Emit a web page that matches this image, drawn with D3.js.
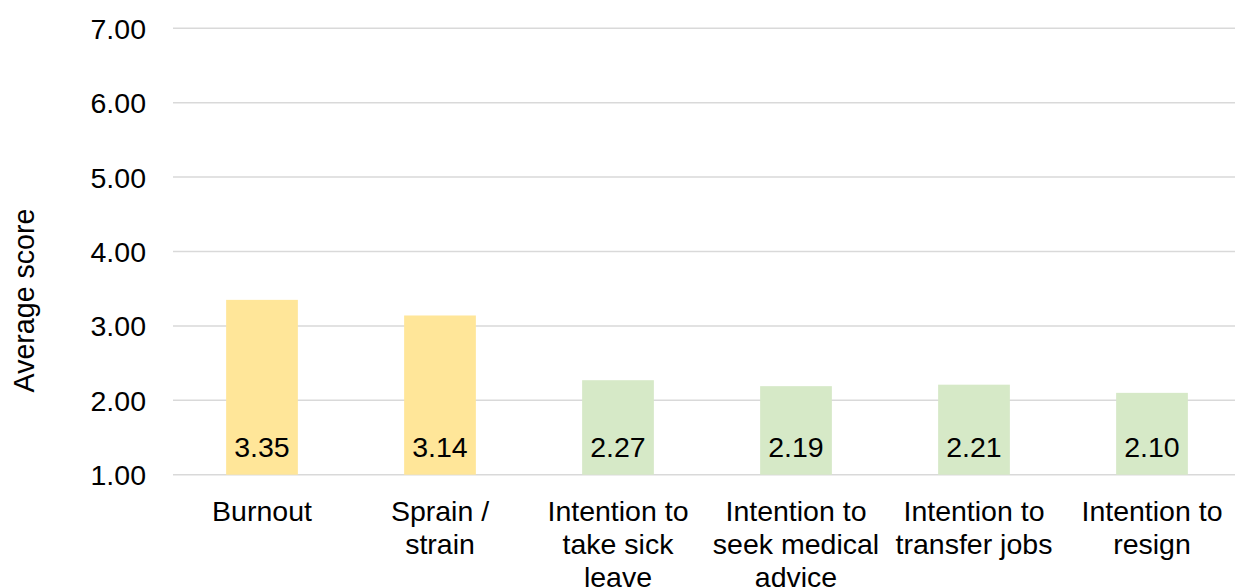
<!DOCTYPE html>
<html>
<head>
<meta charset="utf-8">
<script src="https://cdn.jsdelivr.net/npm/d3@7"></script>
<style>
  html, body { margin: 0; padding: 0; background: #fff; }
  svg { display: block; font-family: "Liberation Sans", Arial, sans-serif; }
</style>
</head>
<body>
<svg id="chart" width="1235" height="588"></svg>
<script>
const categories = ["Burnout", "Sprain / strain", "Intention to take sick leave",
  "Intention to seek medical advice", "Intention to transfer jobs", "Intention to resign"];
const categoryLines = [["Burnout"], ["Sprain /", "strain"], ["Intention to", "take sick", "leave"],
  ["Intention to", "seek medical", "advice"], ["Intention to", "transfer jobs"], ["Intention to", "resign"]];
const values = [3.35, 3.14, 2.27, 2.19, 2.21, 2.10];
const barColors = ["#FFE699", "#FFE699", "#D6E9C7", "#D6E9C7", "#D6E9C7", "#D6E9C7"];
const yTicks = [1, 2, 3, 4, 5, 6, 7];
const yTitle = "Average score";

const svg = d3.select("#chart");
const fontSize = 28.5;

const x = d3.scaleBand().domain(categories).range([173, 1241]).paddingInner(0.597).paddingOuter(0.2985);
const y = d3.scaleLinear().domain([1, 7]).range([474.7, 28.3]);

// gridlines
svg.append("g").selectAll("line").data(yTicks).join("line")
  .attr("x1", 173).attr("x2", 1241)
  .attr("y1", d => y(d)).attr("y2", d => y(d))
  .attr("stroke", "#D9D9D9").attr("stroke-width", 1.5);

// y axis tick labels
const yAxis = d3.axisLeft(y).tickValues(yTicks).tickFormat(d3.format(".2f")).tickSize(0).tickPadding(0);
const yg = svg.append("g").attr("transform", "translate(146,0)").call(yAxis);
yg.select(".domain").remove();
yg.selectAll("text").attr("font-size", fontSize).attr("fill", "#000")
  .attr("font-family", "'Liberation Sans', Arial, sans-serif").attr("dy", "0.35em");

// bars
svg.append("g").selectAll("rect").data(values).join("rect")
  .attr("x", (d, i) => x(categories[i]))
  .attr("width", x.bandwidth())
  .attr("y", d => y(d))
  .attr("height", d => y(1) - y(d))
  .attr("fill", (d, i) => barColors[i]);

// value labels
svg.append("g").selectAll("text").data(values).join("text")
  .attr("x", (d, i) => x(categories[i]) + x.bandwidth() / 2)
  .attr("y", y(1) - 18)
  .attr("text-anchor", "middle")
  .attr("font-size", fontSize)
  .attr("fill", "#000")
  .text(d => d.toFixed(2));

// category labels
const cg = svg.append("g");
categories.forEach((c, i) => {
  const t = cg.append("text")
    .attr("x", x(c) + x.bandwidth() / 2)
    .attr("y", 520.5)
    .attr("text-anchor", "middle")
    .attr("font-size", fontSize)
    .attr("fill", "#000");
  categoryLines[i].forEach((line, j) => {
    t.append("tspan").attr("x", x(c) + x.bandwidth() / 2).attr("y", 520.5 + j * 33).text(line);
  });
});

// y axis title
svg.append("text")
  .attr("transform", `translate(33.5, 300.5) rotate(-90)`)
  .attr("text-anchor", "middle")
  .attr("font-size", 28.6)
  .attr("fill", "#000")
  .text(yTitle);
</script>
</body>
</html>
